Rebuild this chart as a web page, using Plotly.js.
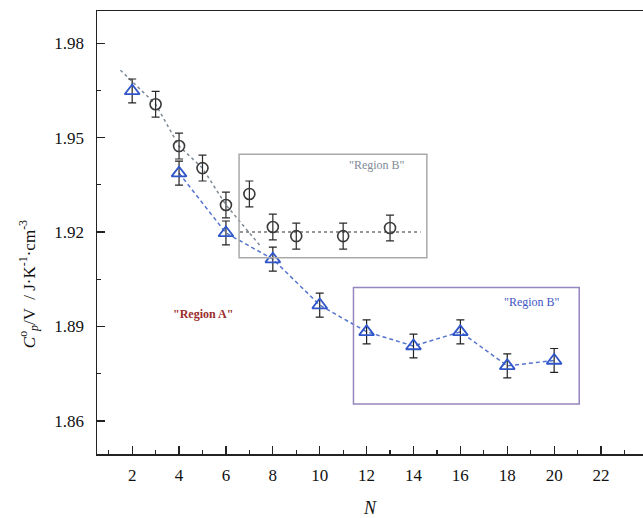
<!DOCTYPE html>
<html>
<head>
<meta charset="utf-8">
<script src="https://cdn.plot.ly/plotly-3.0.1.min.js"></script>
<style>html,body{margin:0;padding:0;background:#fff;}#chart{width:643px;height:518px;}</style>
</head>
<body>
<div id="chart"></div>
<script>
// Open circles (series 1)
var circleN = [3, 4, 5, 6, 7, 8, 9, 11, 13];
var circleCp = [1.9606, 1.9473, 1.9403, 1.9286, 1.9321, 1.9216, 1.9187, 1.9187, 1.9213];
var circleErr = [0.0041, 0.0041, 0.0041, 0.0041, 0.0041, 0.0041, 0.0041, 0.0041, 0.0041];

// Open triangles (series 2)
var triN = [2, 4, 6, 8, 10, 12, 14, 16, 18, 20];
var triCp = [1.9648, 1.9387, 1.9197, 1.9114, 1.8968, 1.8883, 1.8838, 1.8883, 1.8775, 1.8792];
var triErr = [0.0038, 0.0038, 0.0038, 0.0038, 0.0038, 0.0038, 0.0038, 0.0038, 0.0038, 0.0038];

// Dashed guide lines
var regionAFitN = [1.5, 3, 4, 5, 6, 7.5];
var regionAFitCp = [1.9714, 1.9606, 1.9473, 1.9403, 1.9286, 1.9153];
var plateauN = [6.6, 14.3];
var plateauCp = [1.92, 1.92];
var triLineN = [4, 6, 8, 10, 12, 14, 16, 18, 20];
var triLineCp = [1.9387, 1.9197, 1.9114, 1.8968, 1.8883, 1.8838, 1.8883, 1.8775, 1.8792];

var serif = 'Liberation Serif, Times New Roman, serif';

var traces = [
  {x: regionAFitN, y: regionAFitCp, mode: 'lines', type: 'scatter', hoverinfo: 'skip',
   line: {color: '#7d8a96', width: 1.5, dash: '3px,3px'}},
  {x: plateauN, y: plateauCp, mode: 'lines', type: 'scatter', hoverinfo: 'skip',
   line: {color: '#6e747a', width: 1.5, dash: '3px,3px'}},
  {x: triLineN, y: triLineCp, mode: 'lines', type: 'scatter', hoverinfo: 'skip',
   line: {color: '#5573cc', width: 1.5, dash: '4px,3px'}},
  {x: circleN, y: circleCp, mode: 'markers', type: 'scatter',
   marker: {symbol: 'circle-open', size: 11, color: '#3a3a3a', line: {width: 1.6, color: '#3a3a3a'}},
   error_y: {type: 'data', array: circleErr, visible: true, color: '#2a2a2a', thickness: 1.2, width: 4}},
  {x: triN, y: triCp, mode: 'markers', type: 'scatter',
   marker: {symbol: 'triangle-up-open', size: 13, color: '#2f55c8', line: {width: 1.8, color: '#2f55c8'}},
   error_y: {type: 'data', array: triErr, visible: true, color: '#222', thickness: 1.2, width: 4}}
];

var layout = {
  width: 643, height: 518,
  margin: {l: 97, r: 0, t: 11, b: 64},
  paper_bgcolor: '#ffffff', plot_bgcolor: '#ffffff',
  showlegend: false,
  font: {family: serif, size: 17, color: '#111'},
  xaxis: {
    range: [0.5, 23.79], tick0: 0, dtick: 2, ticks: 'inside', ticklen: 8, tickwidth: 1.2,
    tickcolor: '#222', showgrid: false, zeroline: false, showline: true, linecolor: '#222', linewidth: 1.5,
    mirror: true, ticklabelstandoff: 5,
    minor: {dtick: 1, ticks: 'inside', ticklen: 4, tickcolor: '#222', showgrid: false},
    tickfont: {family: serif, size: 17, color: '#111'},
    title: {text: '<i>N</i>', font: {family: serif, size: 18, color: '#111'}, standoff: 20}
  },
  yaxis: {
    range: [1.8495, 1.9902], tick0: 1.86, dtick: 0.03, tickformat: '.2f', ticks: 'inside', ticklen: 8,
    tickwidth: 1.2, tickcolor: '#222', showgrid: false, zeroline: false, showline: true, linecolor: '#222',
    linewidth: 1.5, ticklabelstandoff: 8,
    minor: {dtick: 0.015, ticks: 'inside', ticklen: 4, tickcolor: '#222', showgrid: false},
    tickfont: {family: serif, size: 17, color: '#111'}
  },
  shapes: [
    {type: 'rect', xref: 'x', yref: 'y', x0: 6.56, x1: 14.57, y0: 1.9118, y1: 1.9447,
     line: {color: '#a9a9a9', width: 1.5}},
    {type: 'rect', xref: 'x', yref: 'y', x0: 11.44, x1: 21.07, y0: 1.8654, y1: 1.9024,
     line: {color: '#9586bf', width: 1.5}}
  ],
  annotations: [
    {x: -0.124, y: 0.384, xref: 'paper', yref: 'paper', textangle: -90, showarrow: false,
     xanchor: 'center', yanchor: 'middle',
     text: '<i>C</i><sup>o</sup><sub><i>p</i></sub>/V  / J·K<sup>-1</sup>·cm<sup>-3</sup>',
     font: {family: serif, size: 17, color: '#111'}},
    {x: 5.03, y: 1.894, xref: 'x', yref: 'y', text: '<b>"Region A"</b>', showarrow: false,
     font: {family: serif, size: 12, color: '#9b2c2c'}},
    {x: 12.45, y: 1.9413, xref: 'x', yref: 'y', text: '"Region B"', showarrow: false,
     font: {family: serif, size: 12, color: '#7f8a96'}},
    {x: 19.05, y: 1.8978, xref: 'x', yref: 'y', text: '"Region B"', showarrow: false,
     font: {family: serif, size: 12, color: '#3f55c0'}}
  ]
};

Plotly.newPlot('chart', traces, layout, {displayModeBar: false, staticPlot: true});
</script>
</body>
</html>
